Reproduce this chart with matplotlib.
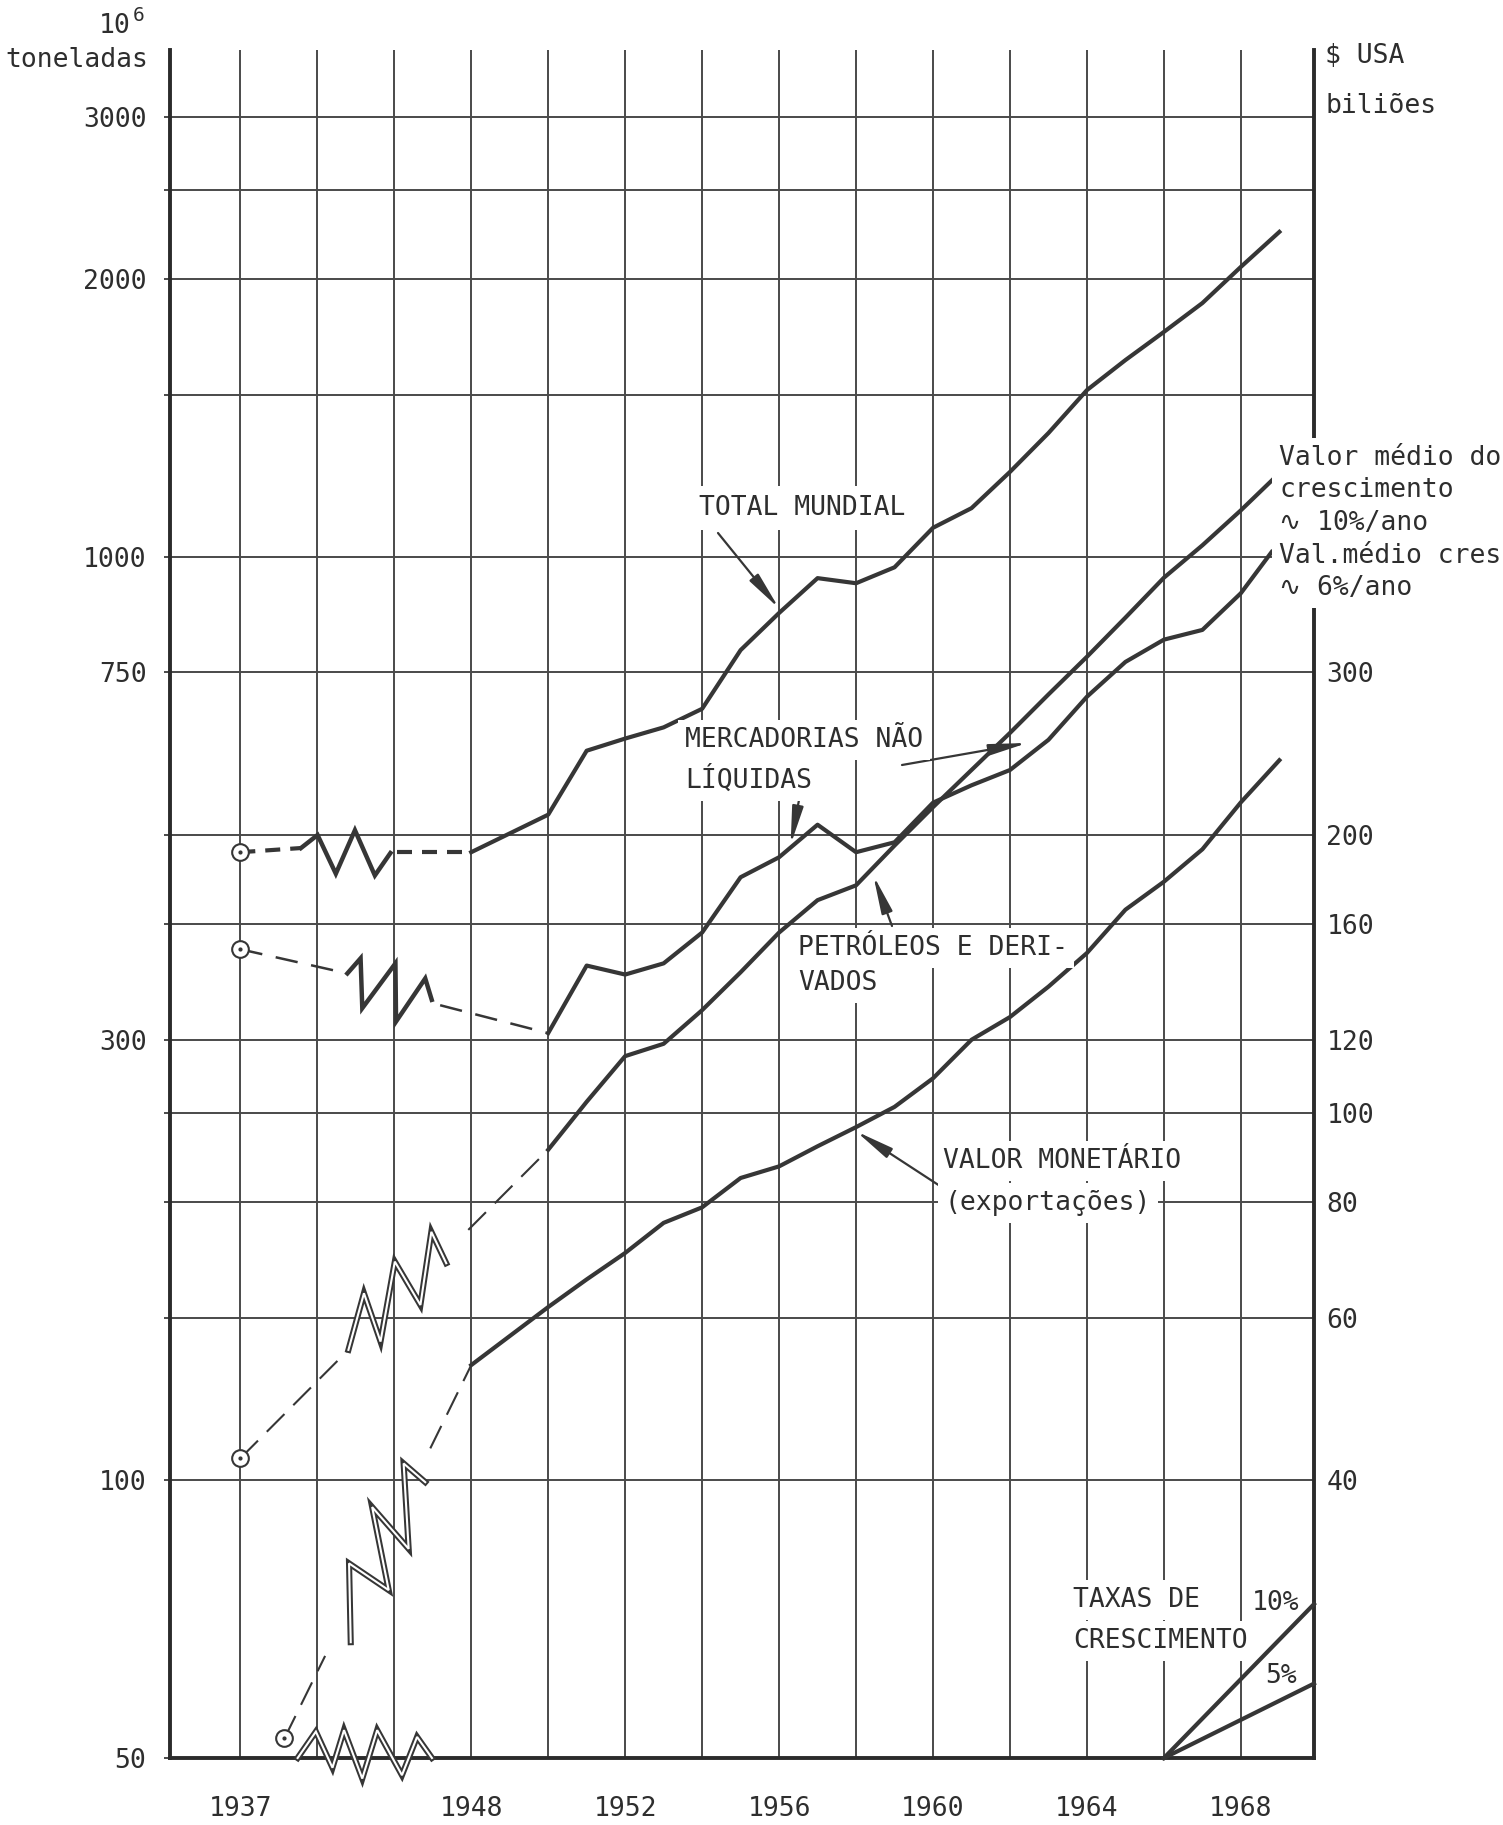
import numpy as np
import matplotlib
matplotlib.use("Agg")
import matplotlib.pyplot as plt
from matplotlib.ticker import FixedLocator, FixedFormatter, NullLocator

# ---------------- data ----------------
# Left axis: 10^6 toneladas ; right axis: $ USA biliões
anos_tm = [1948, 1950, 1951, 1952, 1953, 1954, 1955, 1956, 1957, 1958, 1959,
           1960, 1961, 1962, 1963, 1964, 1965, 1966, 1967, 1968, 1969]
total_mundial = [479, 526, 617, 636, 654, 685, 793, 870, 949, 937, 975,
                 1076, 1130, 1237, 1363, 1517, 1635, 1754, 1885, 2063, 2251]

anos_merc = [1950, 1951, 1952, 1953, 1954, 1955, 1956, 1957, 1958, 1959,
             1960, 1961, 1962, 1963, 1964, 1965, 1966, 1967, 1968, 1968.8]
mercadorias = [305, 361, 353, 363, 392, 450, 473, 513, 479, 491,
               542, 566, 588, 634, 706, 770, 814, 834, 914, 1013]

anos_petr = [1950, 1951, 1952, 1953, 1954, 1955, 1956, 1957, 1958, 1959,
             1960, 1961, 1962, 1963, 1964, 1965, 1966, 1967, 1968, 1969]
petroleos = [228, 257, 288, 297, 323, 355, 392, 425, 441, 487,
             536, 588, 645, 710, 780, 860, 950, 1030, 1124, 1233]

anos_vm = [1948, 1950, 1951, 1952, 1953, 1954, 1955, 1956, 1957, 1958, 1959,
           1960, 1961, 1962, 1963, 1964, 1965, 1966, 1967, 1968, 1969]
valor_monetario = [53.3, 61.6, 66, 70.5, 76, 79, 85, 87.5, 92, 96.5, 101.5,
                   109, 120, 127, 137, 149, 166, 178, 193, 217, 241]

# pre-1948 reference points (circled) and dashed links
tm_1937 = (1937, 479)
merc_1937 = (1937, 376)
petr_1937 = (1937, 105.6)
vm_1939 = (1939.1, 21.0)

tm_link1_x, tm_link1_y = [1937, 1939.89], [479, 484]
tm_link2_x, tm_link2_y = [1944.45, 1948], [479, 479]
merc_link1_x, merc_link1_y = [1937, 1942.10], [376, 354]
merc_link2_x, merc_link2_y = [1946.52, 1950], [327, 305]
petr_link1_x, petr_link1_y = [1937, 1942.15], [105.6, 138.4]
petr_link2_x, petr_link2_y = [1947.86, 1950], [186.7, 228]
vm_link1_x, vm_link1_y = [1939.1, 1941.04], [21.0, 25.8]
vm_link2_x, vm_link2_y = [1946.05, 1948], [43.3, 53.3]

# break (zig-zag) marks
tm_zig_x = [1939.89, 1940.68, 1941.55, 1942.46, 1943.41, 1944.15]
tm_zig_y = [484, 500, 454, 506, 452, 478]
merc_zig_x = [1942.10, 1942.73, 1942.81, 1944.39, 1944.42, 1945.81, 1946.12]
merc_zig_y = [354, 367.6, 324.6, 363, 314, 349.6, 331.4]
petr_zig_x = [1942.15, 1942.89, 1943.68, 1944.36, 1945.58, 1946.10, 1946.81]
petr_zig_y = [138.4, 159.4, 141.3, 172.5, 154.8, 185.8, 171.8]
vm_zig_x = [1942.26, 1942.18, 1944.07, 1943.28, 1945.02, 1944.78, 1945.81]
vm_zig_y = [26.7, 32.5, 30.4, 37.4, 33.7, 41.7, 39.8]
axis_zig_x = [1939.73, 1940.60, 1941.39, 1941.94, 1942.81, 1943.52, 1944.70, 1945.42, 1946.13]
axis_zig_y = [50, 53.4, 48.8, 53.6, 47.5, 53.6, 47.9, 52.7, 50]

# growth-rate reference lines
anos_taxa = [1966, 1969.9]
taxa_10 = [50, 73.4]
taxa_5 = [50, 60.2]

# axis ticks
left_grid = [50, 100, 150, 200, 250, 300, 400, 500, 750, 1000, 1500, 2000, 2500, 3000]
left_labels = ['50', '100', '', '', '', '300', '', '', '750', '1000', '', '2000', '', '3000']
right_ticks = [40, 60, 80, 100, 120, 160, 200, 300]
right_labels = ['40', '60', '80', '100', '120', '160', '200', '300']
x_labels = ['1937', '', '', '1948', '', '1952', '', '1956', '', '1960', '', '1964', '', '1968']

# ---------------- style ----------------
W, H = 1503, 1825
FONT = ['DejaVu Sans Mono', 'DejaVu Sans']
plt.rcParams['font.family'] = FONT
INK = '#363636'
TXT = '#2e2e2e'
GRID = '#4a4a4a'
FS = 19

fig = plt.figure(figsize=(W / 100, H / 100), dpi=100)
fig.patch.set_facecolor('white')

L, R, B, T = 170, 1314, 1758, 50
ax = fig.add_axes([L / W, (H - B) / H, (R - L) / W, (B - T) / H])


def fwd(y):
    y = np.asarray(y, dtype=float)
    return np.where(y >= 1948, (y - 1948) / 2 + 3, (y - 1937) * 3 / 11)


def inv(p):
    p = np.asarray(p, dtype=float)
    return np.where(p >= 3, 1948 + 2 * (p - 3), 1937 + p * 11 / 3)


ax.set_xscale('function', functions=(fwd, inv))
ax.set_yscale('log')
ax.set_xlim(1933.65, 1969.9)
ax.set_ylim(50, 50 * 10 ** ((B - T) / 923))

grid_years = [float(v) for v in inv(np.arange(14))]
ax.xaxis.set_major_locator(FixedLocator(grid_years))
ax.xaxis.set_major_formatter(FixedFormatter(x_labels))
ax.xaxis.set_minor_locator(NullLocator())
ax.yaxis.set_major_locator(FixedLocator(left_grid))
ax.yaxis.set_major_formatter(FixedFormatter(left_labels))
ax.yaxis.set_minor_locator(NullLocator())
ax.tick_params(axis='x', length=0, pad=27, labelsize=FS, labelcolor=TXT)
ax.tick_params(axis='y', length=4, width=1.4, color=GRID, direction='out',
               pad=13, labelsize=FS, labelcolor=TXT)
ax.grid(True, which='major', color=GRID, lw=1.4)
ax.set_axisbelow(True)
ax.spines['top'].set_visible(False)
for s in ['left', 'right', 'bottom']:
    ax.spines[s].set_linewidth(2.8)
    ax.spines[s].set_color('#2b2b2b')

ax2 = ax.twinx()
ax2.set_yscale('log')
lo, hi = ax.get_ylim()
ax2.set_ylim(lo * 0.4, hi * 0.4)
ax2.yaxis.set_major_locator(FixedLocator(right_ticks))
ax2.yaxis.set_major_formatter(FixedFormatter(right_labels))
ax2.yaxis.set_minor_locator(NullLocator())
ax2.tick_params(axis='y', length=0, pad=9, labelsize=FS, labelcolor=TXT)
for s in ax2.spines.values():
    s.set_visible(False)

LW = 3.0
# ---- solid series ----
ax.plot(anos_tm, total_mundial, color=INK, lw=LW, zorder=4, solid_joinstyle='round')
ax.plot(anos_merc, mercadorias, color=INK, lw=LW, zorder=4, solid_joinstyle='round')
ax.plot(anos_petr, petroleos, color=INK, lw=LW, zorder=4, solid_joinstyle='round')
ax2.plot(anos_vm, valor_monetario, color=INK, lw=LW, zorder=4, solid_joinstyle='round')

# ---- dashed links ----
ax.plot(tm_link1_x, tm_link1_y, color=INK, lw=3.0, ls=(0, (3.6, 2.4)), zorder=4)
ax.plot(tm_link2_x, tm_link2_y, color=INK, lw=3.0, ls=(0, (3.6, 2.4)), zorder=4)
ax.plot(merc_link1_x, merc_link1_y, color=INK, lw=1.8, ls=(0, (9, 5.5)), zorder=4)
ax.plot(merc_link2_x, merc_link2_y, color=INK, lw=1.8, ls=(0, (9, 5.5)), zorder=4)
ax.plot(petr_link1_x, petr_link1_y, color=INK, lw=1.5, ls=(0, (12, 6)), zorder=4)
ax.plot(petr_link2_x, petr_link2_y, color=INK, lw=1.5, ls=(0, (12, 6)), zorder=4)
ax2.plot(vm_link1_x, vm_link1_y, color=INK, lw=1.5, ls=(0, (12, 6)), zorder=4)
ax2.plot(vm_link2_x, vm_link2_y, color=INK, lw=1.5, ls=(0, (12, 6)), zorder=4)

# ---- break marks ----
ax.plot(tm_zig_x, tm_zig_y, color=INK, lw=3.2, zorder=4, solid_joinstyle='miter')
ax.plot(merc_zig_x, merc_zig_y, color=INK, lw=3.2, zorder=4, solid_joinstyle='miter')


def double_line(axis, xs, ys):
    axis.plot(xs, ys, color=INK, lw=4.4, zorder=5, clip_on=False, solid_joinstyle='miter')
    axis.plot(xs, ys, color='white', lw=1.5, zorder=6, clip_on=False, solid_joinstyle='miter')


double_line(ax, petr_zig_x, petr_zig_y)
double_line(ax2, vm_zig_x, vm_zig_y)
double_line(ax, axis_zig_x, axis_zig_y)

# ---- circled origins ----
for axis, pt in [(ax, tm_1937), (ax, merc_1937), (ax, petr_1937), (ax2, vm_1939)]:
    axis.plot([pt[0]], [pt[1]], marker='o', ms=12, mfc='white', mec=INK, mew=1.5,
              zorder=7, clip_on=False)
    axis.plot([pt[0]], [pt[1]], marker='.', ms=4, color=INK, zorder=8, clip_on=False)

# ---- growth-rate lines ----
ax.plot(anos_taxa, taxa_10, color=INK, lw=3.0, zorder=4, clip_on=False)
ax.plot(anos_taxa, taxa_5, color=INK, lw=3.0, zorder=4, clip_on=False)


# ---- annotation arrows ----
def arrow(axis, tip, tail_px):
    axis.annotate('', xy=tip, xycoords='data',
                  xytext=(tail_px[0] / W, 1 - tail_px[1] / H), textcoords='figure fraction',
                  arrowprops=dict(arrowstyle='-|>,head_length=1.15,head_width=0.17',
                                  color=INK, lw=1.6, shrinkA=0, shrinkB=0,
                                  mutation_scale=20), zorder=6)


arrow(ax, (1956, 880), (718, 533))
arrow(ax, (1956.3, 488), (799, 800))
arrow(ax, (1962.45, 629), (902, 765))
arrow(ax, (1958.45, 452), (892, 926))
arrow(ax2, (1958.0, 95.5), (940, 1186))


# ---- texts ----
def ftext(x, y, s, size=FS, ha='left', box=True, pad=0.25):
    kw = {}
    if box:
        kw['bbox'] = dict(facecolor='white', edgecolor='none', boxstyle='square,pad=%g' % pad)
    fig.text(x / W, 1 - y / H, s, ha=ha, va='baseline', fontsize=size, color=TXT,
             family=FONT, **kw)


ftext(131, 33, '10', ha='right', box=False)
ftext(133, 21, '6', size=14, box=False)
ftext(148, 67, 'toneladas', ha='right', box=False)
ftext(1325, 63, '$ USA', box=False)
ftext(1325, 113, 'biliões', box=False)

ftext(699, 515, 'TOTAL MUNDIAL', pad=0.33)
ftext(685, 747, 'MERCADORIAS NÃO')
ftext(685, 788, 'LÍQUIDAS')
ftext(798, 955, 'PETRÓLEOS E DERI-')
ftext(798, 990, 'VADOS')
ftext(943, 1168, 'VALOR MONETÁRIO')
ftext(945, 1210, '(exportações)')

ftext(1279, 465, 'Valor médio do')
ftext(1279, 497, 'crescimento')
ftext(1279, 530, '∿ 10%/ano')
ftext(1279, 563, 'Val.médio cres')
ftext(1279, 595, '∿ 6%/ano')

ftext(1073, 1607, 'TAXAS DE')
ftext(1073, 1648, 'CRESCIMENTO')
ftext(1252, 1610, '10%', box=False)
ftext(1265, 1683, '5%', box=False)

fig.savefig('out.png', dpi=100, facecolor='white')
